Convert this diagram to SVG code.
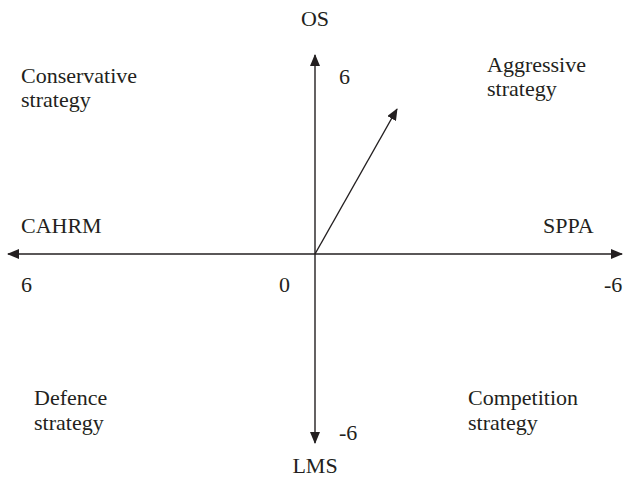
<svg xmlns="http://www.w3.org/2000/svg" width="627" height="479" viewBox="0 0 627 479">
<style>
text{font-family:"Liberation Serif","Times New Roman",serif;font-size:22px;fill:#231f20}
.ax{stroke:#231f20;stroke-width:1.4;fill:none}
</style>
<defs>
<marker id="ah" viewBox="0 0 12 10" refX="11" refY="5" markerWidth="12" markerHeight="10" markerUnits="userSpaceOnUse" orient="auto">
<path d="M0,0 L12,5 L0,10 Z" fill="#231f20"/>
</marker>
</defs>
<rect width="627" height="479" fill="#fff"/>
<g id="connectors">
<line class="ax" x1="315" y1="254" x2="315" y2="55" marker-end="url(#ah)"/>
<line class="ax" x1="315" y1="254" x2="315" y2="443" marker-end="url(#ah)"/>
<line class="ax" x1="315" y1="254" x2="8" y2="254" marker-end="url(#ah)"/>
<line class="ax" x1="315" y1="254" x2="622" y2="254" marker-end="url(#ah)"/>
<line class="ax" x1="315" y1="254" x2="397" y2="109" marker-end="url(#ah)"/>
</g>
<g id="os"><text x="315" y="26" text-anchor="middle">OS</text></g>
<g id="lms"><text x="315" y="473" text-anchor="middle">LMS</text></g>
<g id="cahrm"><text x="21" y="233">CAHRM</text></g>
<g id="sppa"><text x="543" y="233">SPPA</text></g>
<g id="ticks">
<text x="339" y="84">6</text>
<text x="339" y="440">-6</text>
<text x="21" y="292">6</text>
<text x="279" y="292">0</text>
<text x="604" y="292">-6</text>
</g>
<g id="conservative"><text x="21" y="83">Conservative</text><text x="21" y="107">strategy</text></g>
<g id="aggressive"><text x="487" y="72">Aggressive</text><text x="487" y="96">strategy</text></g>
<g id="defence"><text x="34" y="405">Defence</text><text x="34" y="430">strategy</text></g>
<g id="competition"><text x="468" y="405">Competition</text><text x="468" y="430">strategy</text></g>
</svg>
